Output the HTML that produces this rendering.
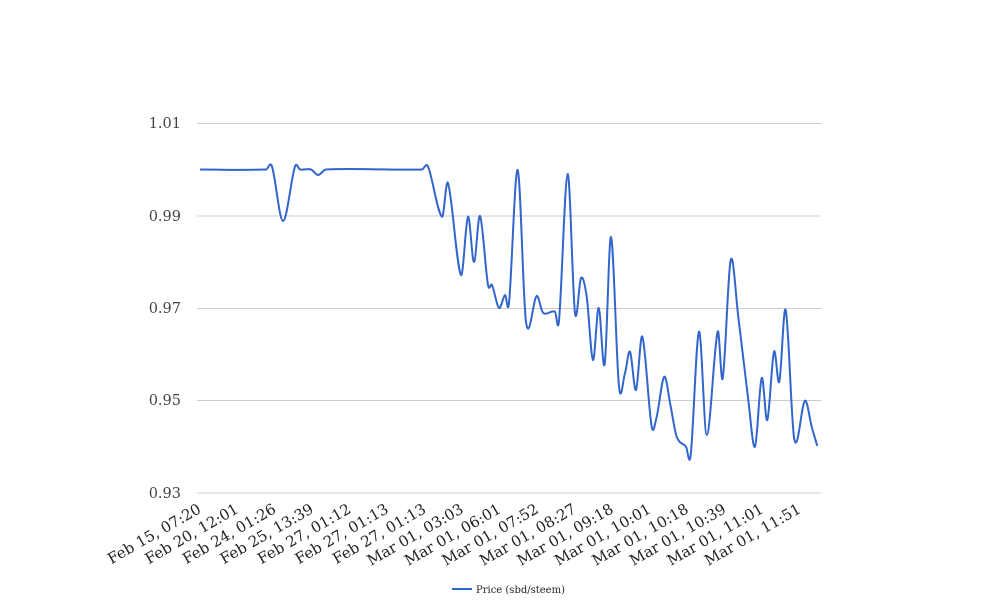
<!DOCTYPE html>
<html><head><meta charset="utf-8"><style>
body{margin:0;background:#fff;}
svg{display:block;font-family:"DejaVu Serif","Liberation Serif",serif;}
</style></head><body>
<svg id="s" width="1008" height="616" viewBox="0 0 1008 616">
<g stroke="#ccc" stroke-width="1">
<line x1="197" x2="821" y1="123.5" y2="123.5"/>
<line x1="197" x2="821" y1="216" y2="216"/>
<line x1="197" x2="821" y1="308.5" y2="308.5"/>
<line x1="197" x2="821" y1="400.5" y2="400.5"/>
<line x1="197" x2="821" y1="493" y2="493"/>
</g>
<g font-size="14.5" fill="#444" text-anchor="end">
<text x="181" y="128">1.01</text>
<text x="181" y="221">0.99</text>
<text x="181" y="313">0.97</text>
<text x="181" y="405">0.95</text>
<text x="181" y="498">0.93</text>
</g>
<g id="xl" font-size="15" fill="#222" text-anchor="end"></g>
<path id="p" fill="none" stroke="#3366cc" stroke-width="2"/>
<line x1="452" x2="472" y1="589" y2="589" stroke="#3366cc" stroke-width="2"/>
<text x="476" y="593" font-size="10" fill="#222">Price (sbd/steem)</text>
</svg>
<script>
var labs=["Feb 15, 07:20","Feb 20, 12:01","Feb 24, 01:26","Feb 25, 13:39","Feb 27, 01:12","Feb 27, 01:13","Feb 27, 01:13","Mar 01, 03:03","Mar 01, 06:01","Mar 01, 07:52","Mar 01, 08:27","Mar 01, 09:18","Mar 01, 10:01","Mar 01, 10:18","Mar 01, 10:39","Mar 01, 11:01","Mar 01, 11:51"];
var g=document.getElementById('xl'),h='';
labs.forEach(function(l,i){var x=202+i*37.5,y=512;h+='<text transform="translate('+x+','+y+') rotate(-30)">'+l+'</text>';});
g.innerHTML=h;
var pts=[[200,169.5],[266,169.5],[272,166.5],[283,221],[295,166.5],[300,169.5],[311,169.5],[318,175],[326,169.5],[422,169.5],[428,166.5],[442,216.7],[448,183],[461,275],[468,216.7],[474,262],[480,216],[488,285],[492,285],[499,308],[505,295],[509,303],[517.7,170],[526,322],[536.7,296],[543,312.7],[555,311.7],[559,320.7],[567.7,174],[575,313],[581,278],[586.7,296.7],[593,360],[598.7,308],[604.7,364],[611,237],[619,386.7],[625,373],[630,351.7],[636,390],[642.3,336.7],[651.7,426.7],[656.7,416.7],[664.3,376.7],[670.7,406.7],[676.7,436.7],[686,446.7],[690.7,455],[699,331.7],[706.7,435],[717.7,331.7],[722.7,378.3],[730.7,260],[738.3,316.7],[748.3,400],[755,446.7],[761.7,378],[767.3,420],[774,351.7],[779.3,381.7],[785.7,310],[794.3,439.3],[805,400.7],[811.7,426.7],[817.3,446]];
var n=pts.length,m=[];
for(var i=0;i<n;i++){var a=pts[Math.max(0,i-1)],b=pts[Math.min(n-1,i+1)];m.push((b[1]-a[1])/(b[0]-a[0]));}
var d='M'+pts[0][0]+','+pts[0][1];
for(var i=0;i<n-1;i++){var p1=pts[i],p2=pts[i+1],dx=(p2[0]-p1[0])/3;
d+='C'+(p1[0]+dx)+','+(p1[1]+m[i]*dx)+' '+(p2[0]-dx)+','+(p2[1]-m[i+1]*dx)+' '+p2[0]+','+p2[1];}
document.getElementById('p').setAttribute('d',d);
</script>
</body></html>
